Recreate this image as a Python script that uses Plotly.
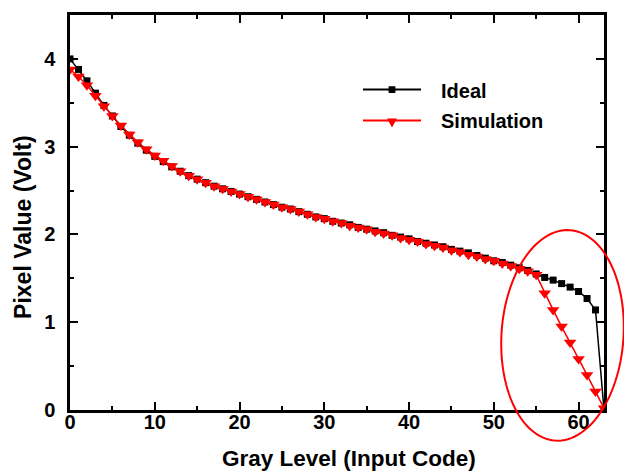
import numpy as np
import plotly.graph_objects as go

# ---- data ----
gray_level = list(range(64))
ideal = [4.00, 3.88, 3.75, 3.61, 3.47, 3.35, 3.23, 3.13, 3.04, 2.96,
         2.89, 2.83, 2.77, 2.72, 2.67, 2.63, 2.59, 2.55, 2.52, 2.49,
         2.46, 2.43, 2.40, 2.37, 2.34, 2.31, 2.29, 2.26, 2.23, 2.20,
         2.18, 2.15, 2.13, 2.11, 2.08, 2.06, 2.04, 2.02, 1.99, 1.97,
         1.95, 1.92, 1.90, 1.88, 1.86, 1.83, 1.81, 1.79, 1.76, 1.73,
         1.70, 1.68, 1.65, 1.62, 1.59, 1.55, 1.51, 1.48, 1.44, 1.40,
         1.35, 1.27, 1.14, 0.00]
simulation = [3.88, 3.80, 3.70, 3.58, 3.46, 3.35, 3.24, 3.14, 3.05, 2.97,
              2.90, 2.84, 2.78, 2.72, 2.67, 2.63, 2.59, 2.55, 2.52, 2.49,
              2.46, 2.43, 2.40, 2.37, 2.34, 2.31, 2.29, 2.26, 2.23, 2.20,
              2.18, 2.15, 2.13, 2.10, 2.08, 2.06, 2.03, 2.01, 1.99, 1.96,
              1.94, 1.92, 1.89, 1.87, 1.85, 1.82, 1.80, 1.77, 1.75, 1.72,
              1.70, 1.67, 1.64, 1.61, 1.58, 1.54, 1.33, 1.14, 0.95, 0.77,
              0.58, 0.40, 0.21, 0.02]
x_ticks = [0, 10, 20, 30, 40, 50, 60]
y_ticks = [0, 1, 2, 3, 4]
series_names = ["Ideal", "Simulation"]
x_title = "Gray Level (Input Code)"
y_title = "Pixel Value (Volt)"

# ---- layout geometry (pixels) ----
W, H = 624, 476
ML, MR, MT, MB = 70, 20, 13, 66
PW, PH = W - ML - MR, H - MT - MB


def px(x):
    return (x - ML) / PW


def py(y):
    return (H - MB - y) / PH


FONT = "Liberation Sans, Arial, sans-serif"

fig = go.Figure()
fig.add_trace(go.Scatter(
    x=gray_level, y=ideal, mode="lines+markers", name=series_names[0],
    line=dict(color="black", width=1.5),
    marker=dict(symbol="square", size=7, color="black"), showlegend=False))
fig.add_trace(go.Scatter(
    x=gray_level, y=simulation, mode="lines+markers", name=series_names[1],
    line=dict(color="#ff0000", width=1.5),
    marker=dict(symbol="triangle-down", size=11, color="#ff0000"), showlegend=False))

axis_common = dict(
    ticks="inside", ticklen=8, tickwidth=2, tickcolor="black",
    showline=True, linewidth=2.5, linecolor="black", mirror="ticks",
    showgrid=False, zeroline=False,
    tickfont=dict(family=FONT, size=20, color="black", weight="bold"),
)

fig.update_xaxes(range=[0, 63], tickvals=x_ticks, ticklabelstandoff=-8,
                 minor=dict(dtick=5, ticks="inside", ticklen=4, tickwidth=2,
                            tickcolor="black", showgrid=False),
                 **axis_common)
fig.update_yaxes(range=[0, 4.5], tickvals=y_ticks, ticklabelstandoff=8,
                 minor=dict(dtick=0.5, ticks="inside", ticklen=4, tickwidth=2,
                            tickcolor="black", showgrid=False),
                 **axis_common)

# ---- red ellipse highlight (paper coords, unclipped) ----
cx, cy, a, b, th = 562.5, 335, 61, 106, np.deg2rad(4)
t = np.linspace(0, 2 * np.pi, 121)
u, v = a * np.cos(t), b * np.sin(t)
ex = cx + u * np.cos(th) - v * np.sin(th)
ey = cy + u * np.sin(th) + v * np.cos(th)
path = "M " + " L ".join(f"{px(X):.5f},{py(Y):.5f}" for X, Y in zip(ex, ey)) + " Z"
shapes = [dict(type="path", path=path, xref="paper", yref="paper",
               line=dict(color="#ff0000", width=2), fillcolor="rgba(0,0,0,0)")]

# ---- manual legend ----
leg_x0, leg_x1, leg_xm = 363, 421, 392
rows = [(88, "black"), (119, "#ff0000")]
for (yy, col) in rows:
    shapes.append(dict(type="line", xref="paper", yref="paper",
                       x0=px(leg_x0), x1=px(leg_x1), y0=py(yy), y1=py(yy),
                       line=dict(color=col, width=2)))
# square marker
s = 3.4
shapes.append(dict(type="rect", xref="paper", yref="paper",
                   x0=px(leg_xm - s), x1=px(leg_xm + s),
                   y0=py(rows[0][0] - s), y1=py(rows[0][0] + s),
                   line=dict(width=0), fillcolor="black"))
# triangle marker
ty = rows[1][0]
tri = (f"M {px(leg_xm-5):.5f},{py(ty-2):.5f} L {px(leg_xm+5):.5f},{py(ty-2):.5f} "
       f"L {px(leg_xm):.5f},{py(ty+7):.5f} Z")
shapes.append(dict(type="path", path=tri, xref="paper", yref="paper",
                   line=dict(width=0), fillcolor="#ff0000"))

annotations = []
for (yy, _), name in zip(rows, series_names):
    annotations.append(dict(x=px(439), y=py(yy + 1), xref="paper", yref="paper",
                            text=name, showarrow=False, xanchor="left", yanchor="middle",
                            font=dict(family=FONT, size=20, color="black", weight="bold")))
annotations.append(dict(x=px(348.5), y=py(459), xref="paper", yref="paper",
                        text=x_title, showarrow=False, xanchor="center", yanchor="middle",
                        font=dict(family=FONT, size=22.5, color="black", weight="bold")))
annotations.append(dict(x=px(23.5), y=py(226.5), xref="paper", yref="paper",
                        text=y_title, showarrow=False, xanchor="center", yanchor="middle",
                        textangle=-90,
                        font=dict(family=FONT, size=23, color="black", weight="bold")))

fig.update_layout(
    width=W, height=H, margin=dict(l=ML, r=MR, t=MT, b=MB, pad=0),
    plot_bgcolor="white", paper_bgcolor="white",
    shapes=shapes, annotations=annotations, showlegend=False,
)

fig.write_html("out.html")
